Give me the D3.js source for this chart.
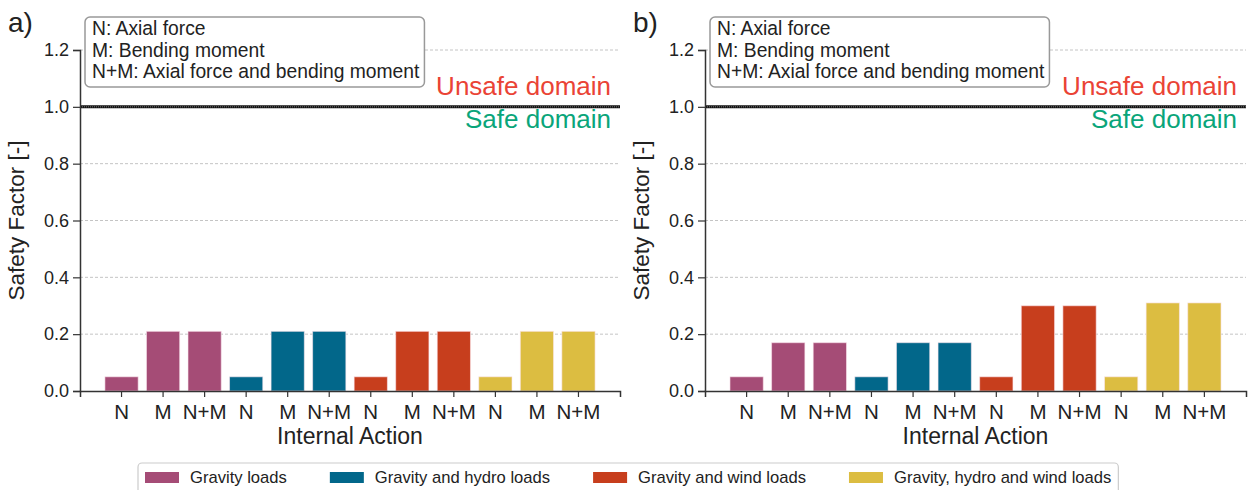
<!DOCTYPE html>
<html>
<head>
<meta charset="utf-8">
<script src="https://cdn.jsdelivr.net/npm/d3@7/dist/d3.min.js"></script>
<style>
  body { margin: 0; background: #fff; }
  svg { font-family: "Liberation Sans", Arial, sans-serif; }
</style>
</head>
<body>
<div id="chart"></div>
<script>
// internal actions, repeated for each load case
const actions = ["N", "M", "N+M"];
const loadCases = ["Gravity loads", "Gravity and hydro loads", "Gravity and wind loads", "Gravity, hydro and wind loads"];
const caseColors = ["#a54c76", "#02678a", "#c73e1d", "#dcbd41"];
const yTicks = [0.0, 0.2, 0.4, 0.6, 0.8, 1.0, 1.2];
const noteLines = ["N: Axial force", "M: Bending moment", "N+M: Axial force and bending moment"];

// safety factors, panel a)
const gravityA = [0.05, 0.21, 0.21];
const hydroA   = [0.05, 0.21, 0.21];
const windA    = [0.05, 0.21, 0.21];
const allA     = [0.05, 0.21, 0.21];
// safety factors, panel b)
const gravityB = [0.05, 0.17, 0.17];
const hydroB   = [0.05, 0.17, 0.17];
const windB    = [0.05, 0.30, 0.30];
const allB     = [0.05, 0.31, 0.31];

const width = 1253, height = 490;
const svg = d3.select("#chart").append("svg")
    .attr("width", width)
    .attr("height", height);

function flatten(seriesList){
    const rows = [];
    seriesList.forEach((vals, c) => {
        vals.forEach((v, a) => {
            rows.push({ key: c * 3 + a, action: actions[a], lc: c, value: v });
        });
    });
    return rows;
}

const panels = [
    { label: "a)", left: 80, right: 620, data: flatten([gravityA, hydroA, windA, allA]) },
    { label: "b)", left: 705, right: 1246, data: flatten([gravityB, hydroB, windB, allB]) }
];

const plotTop = 50, plotBottom = 391;
const y = d3.scaleLinear().domain([0, 1.2]).range([plotBottom, plotTop]);

panels.forEach(p => {
    const g = svg.append("g");
    const x = d3.scaleBand()
        .domain(p.data.map(d => d.key))
        .range([p.left, p.right])
        .paddingInner(0.2)
        .paddingOuter(0.6);

    // grid
    g.append("g").selectAll("line")
        .data(yTicks.filter(t => t > 0))
        .enter().append("line")
        .attr("x1", p.left).attr("x2", p.right)
        .attr("y1", d => y(d)).attr("y2", d => y(d))
        .attr("stroke", "#c4c4c4")
        .attr("stroke-width", 1)
        .attr("stroke-dasharray", "3,2");

    // bars
    g.append("g").selectAll("rect")
        .data(p.data)
        .enter().append("rect")
        .attr("x", d => x(d.key))
        .attr("width", x.bandwidth())
        .attr("y", d => y(d.value))
        .attr("height", d => y(0) - y(d.value))
        .attr("fill", d => caseColors[d.lc])
        .attr("stroke", "#fbe6ee")
        .attr("stroke-opacity", 0.6)
        .attr("stroke-width", 1);

    // limit line at 1.0
    g.append("line")
        .attr("x1", p.left).attr("x2", p.right)
        .attr("y1", y(1)).attr("y2", y(1))
        .attr("stroke", "#111").attr("stroke-width", 3);
    g.append("line")
        .attr("x1", p.left).attr("x2", p.right)
        .attr("y1", y(1)).attr("y2", y(1))
        .attr("stroke", "#777").attr("stroke-width", 1)
        .attr("stroke-dasharray", "1,1");

    g.append("text")
        .attr("x", p.right - 9).attr("y", y(1) - 12)
        .attr("text-anchor", "end")
        .attr("font-size", 26)
        .attr("fill", "#ea4335")
        .text("Unsafe domain");
    g.append("text")
        .attr("x", p.right - 9).attr("y", y(1) + 21)
        .attr("text-anchor", "end")
        .attr("font-size", 26)
        .attr("fill", "#0aa57a")
        .text("Safe domain");

    // axes
    const yAxis = g.append("g")
        .attr("transform", `translate(${p.left},0)`)
        .call(d3.axisLeft(y).tickValues(yTicks).tickFormat(d3.format(".1f")).tickSizeOuter(0).tickSize(7).tickPadding(4));
    yAxis.select(".domain").attr("stroke", "#333").attr("stroke-width", 1.5);
    yAxis.selectAll(".tick line").attr("stroke", "#333").attr("stroke-width", 1.2);
    yAxis.selectAll(".tick text").attr("font-size", 18).attr("fill", "#222").attr("font-family", "Liberation Sans, Arial, sans-serif");

    const xAxis = g.append("g")
        .attr("transform", `translate(0,${plotBottom})`)
        .call(d3.axisBottom(x).tickFormat(k => p.data[k].action).tickSizeOuter(0).tickSize(6).tickPadding(7));
    xAxis.select(".domain").attr("stroke", "#333").attr("stroke-width", 1.5);
    xAxis.selectAll(".tick line").attr("stroke", "#333").attr("stroke-width", 1.2);
    xAxis.selectAll(".tick text").attr("font-size", 20.5).attr("fill", "#222").attr("font-family", "Liberation Sans, Arial, sans-serif");

    // axis titles
    g.append("text")
        .attr("x", (p.left + p.right) / 2).attr("y", 444)
        .attr("text-anchor", "middle")
        .attr("font-size", 23)
        .attr("fill", "#222")
        .text("Internal Action");
    g.append("text")
        .attr("transform", `translate(${p.left - 56},${(plotTop + plotBottom) / 2}) rotate(-90)`)
        .attr("text-anchor", "middle")
        .attr("font-size", 22.5)
        .attr("fill", "#222")
        .text("Safety Factor [-]");

    // panel label
    g.append("text")
        .attr("x", p.left - 72).attr("y", 32)
        .attr("font-size", 28)
        .attr("fill", "#222")
        .text(p.label);

    // note box
    const note = g.append("g").attr("transform", `translate(${p.left + 5},17)`);
    const box = note.append("rect")
        .attr("rx", 5).attr("ry", 5)
        .attr("fill", "#fff")
        .attr("stroke", "#999")
        .attr("stroke-width", 1.5);
    const lines = note.selectAll("text")
        .data(noteLines)
        .enter().append("text")
        .attr("x", 7)
        .attr("y", (d, i) => 18 + i * 21.5)
        .attr("font-size", 19.3)
        .attr("fill", "#222")
        .text(d => d);
    const w = d3.max(lines.nodes(), n => n.getComputedTextLength());
    box.attr("width", w + 12).attr("height", 70);
});

// shared legend at the bottom
const legend = svg.append("g");
const legItems = legend.selectAll("g")
    .data(loadCases)
    .enter().append("g");
legItems.append("rect")
    .attr("width", 34).attr("height", 11)
    .attr("y", -11)
    .attr("fill", (d, i) => caseColors[i]);
legItems.append("text")
    .attr("x", 45)
    .attr("font-size", 16.6)
    .attr("fill", "#222")
    .text(d => d);
const legGap = 43;
let cursor = 0;
legItems.each(function(){
    const item = d3.select(this);
    item.attr("transform", `translate(${cursor},0)`);
    cursor += 45 + item.select("text").node().getComputedTextLength() + legGap;
});
const legWidth = cursor - legGap;
const legLeft = 145;
legend.attr("transform", `translate(${legLeft},483)`);
legend.insert("rect", ":first-child")
    .attr("x", -7).attr("y", -20)
    .attr("width", legWidth + 14).attr("height", 45)
    .attr("rx", 4)
    .attr("fill", "#fff")
    .attr("stroke", "#ccc")
    .attr("stroke-width", 1.2);
</script>
</body>
</html>
